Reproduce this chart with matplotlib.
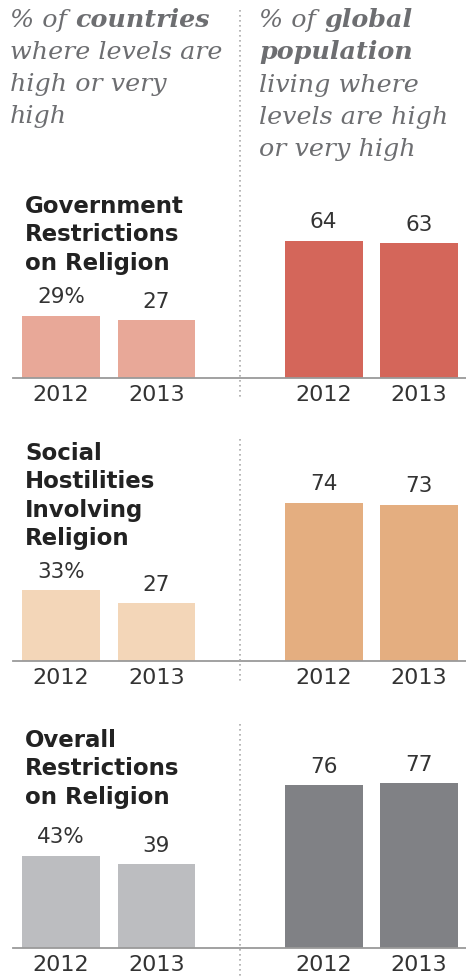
import numpy as np
import matplotlib
matplotlib.use("Agg")
import matplotlib.pyplot as plt
from matplotlib.lines import Line2D

# data
years = ["2012", "2013"]
topics = ["Government\nRestrictions\non Religion",
          "Social\nHostilities\nInvolving\nReligion",
          "Overall\nRestrictions\non Religion"]
pct_countries = [[29, 27], [33, 27], [43, 39]]
pct_population = [[64, 63], [74, 73], [76, 77]]
light_colors = ["#E8A898", "#F3D6B8", "#BCBDC0"]
dark_colors = ["#D4665A", "#E4AE80", "#808185"]

W, H = 466, 976
fig = plt.figure(figsize=(W / 100, H / 100), dpi=100)

baselines = [377.7, 661, 947.7]   # pixel rows of the zero line
title_tops = [195, 442, 729]
px_per_unit = 2.14
ax_h = 180

gray = "#6d6e71"
serif = "DejaVu Serif"

def fx(px):
    return px / W

def fy(py):
    return 1 - py / H

# header, mixed italic / bold italic runs
renderer = fig.canvas.get_renderer()

def header_line(x, y, runs):
    for txt, bold in runs:
        t = fig.text(fx(x), fy(y), txt, family=serif, style="italic",
                     weight="bold" if bold else "normal", fontsize=18.3,
                     color=gray, va="baseline", ha="left")
        bb = t.get_window_extent(renderer)
        x += bb.width

left_head = [[("% of ", False), ("countries", True)],
             [("where levels are", False)],
             [("high or very", False)],
             [("high", False)]]
right_head = [[("% of ", False), ("global", True)],
              [("population", True)],
              [("living where", False)],
              [("levels are high", False)],
              [("or very high", False)]]
for i, runs in enumerate(left_head):
    header_line(10, 27 + i * 32, runs)
for i, runs in enumerate(right_head):
    header_line(259, 27 + i * 32.3, runs)

x_left = np.array([0, 1])
x_right = x_left + 2.75
xmin = -61 / 95.5
xmax = (466 - 61) / 95.5

for r in range(3):
    b = baselines[r]
    ax = fig.add_axes([0, fy(b), 1, ax_h / H])
    ax.set_xlim(xmin, xmax)
    ax.set_ylim(0, ax_h / px_per_unit)
    b1 = ax.bar(x_left, pct_countries[r], width=0.815, color=light_colors[r])
    b2 = ax.bar(x_right, pct_population[r], width=0.815, color=dark_colors[r])
    for j, rect in enumerate(b1):
        lab = f"{pct_countries[r][j]}%" if j == 0 else f"{pct_countries[r][j]}"
        ax.annotate(lab, (rect.get_x() + rect.get_width() / 2, rect.get_height()),
                    xytext=(0, 6), textcoords="offset points", ha="center",
                    va="bottom", fontsize=15.5, color="#333333")
    for j, rect in enumerate(b2):
        ax.annotate(f"{pct_population[r][j]}",
                    (rect.get_x() + rect.get_width() / 2, rect.get_height()),
                    xytext=(0, 6), textcoords="offset points", ha="center",
                    va="bottom", fontsize=15.5, color="#333333")
    ax.set_xticks(np.concatenate([x_left, x_right]))
    ax.set_xticklabels(years * 2, fontsize=16, color="#333333")
    ax.tick_params(axis="x", length=0, pad=5)
    ax.set_yticks([])
    for s in ["top", "left", "right"]:
        ax.spines[s].set_visible(False)
    ax.spines["bottom"].set_color("#9a9a9a")
    ax.spines["bottom"].set_linewidth(1.3)
    ax.spines["bottom"].set_bounds(-0.503, xmax)
    ax.patch.set_alpha(0)

    fig.text(fx(25), fy(title_tops[r]), topics[r], fontsize=16.5, weight="bold",
             color="#222222", va="top", ha="left", linespacing=1.3)

# dotted divider
for y0, y1 in [(10, 399), (439, 683), (724, 976)]:
    fig.add_artist(Line2D([fx(240), fx(240)], [fy(y0), fy(y1)],
                          transform=fig.transFigure, color="#aaaaaa",
                          linewidth=1.2, linestyle=(0, (1, 2))))

fig.savefig("out.png", dpi=100)
